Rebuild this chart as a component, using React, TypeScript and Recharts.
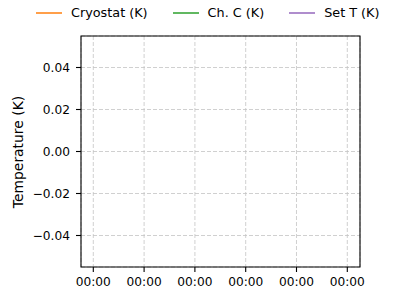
import { LineChart, Line, XAxis, YAxis, CartesianGrid, Legend, ReferenceArea } from "recharts";

// no samples recorded yet -> every series is empty
const TIMES: number[] = [];
const CRYOSTAT: number[] = [];
const CH_C: number[] = [];
const SET_T: number[] = [];

const SERIES_NAMES = ["Cryostat (K)", "Ch. C (K)", "Set T (K)"];

const X_DOMAIN = [-0.242, 5.25];
const X_TICKS = [0, 1, 2, 3, 4, 5];
const X_TICK_LABELS = ["00:00", "00:00", "00:00", "00:00", "00:00", "00:00"];
const Y_DOMAIN = [-0.055, 0.055];
const Y_TICKS = [-0.04, -0.02, 0, 0.02, 0.04];

const FONT = "'DejaVu Sans', sans-serif";
const tickStyle = { fill: "#000", fontSize: 12.2, fontFamily: FONT };

const data = TIMES.map((t, i) => ({ t, cryo: CRYOSTAT[i], chc: CH_C[i], sett: SET_T[i] }));

function LegendContent({ payload }: any) {
  const items = [...(payload || [])].sort(
    (a: any, b: any) => SERIES_NAMES.indexOf(a.value) - SERIES_NAMES.indexOf(b.value)
  );
  return (
    <div
      style={{
        display: "flex",
        height: 25,
        alignItems: "center",
        paddingLeft: 36,
        gap: 25,
        fontFamily: FONT,
        fontSize: 12.8,
        color: "#000",
      }}
    >
      {items.map((p: any) => (
        <div key={p.value} style={{ display: "flex", alignItems: "center" }}>
          <svg width={26} height={4} style={{ marginRight: 9 }}>
            <line x1={0} y1={2} x2={26} y2={2} stroke={p.color} strokeWidth={1.5} />
          </svg>
          <span>{p.value}</span>
        </div>
      ))}
    </div>
  );
}

export default function App() {
  return (
    <div style={{ position: "absolute", left: 0, top: 0, width: 400, height: 300, background: "#fff" }}>
      <LineChart width={400} height={300} data={data} margin={{ top: 11, right: 40, bottom: 0, left: 0 }}>
        <CartesianGrid stroke="#c4c4c4" strokeWidth={0.8} strokeDasharray="4 2" />
        <XAxis
          dataKey="t"
          type="number"
          domain={X_DOMAIN}
          ticks={X_TICKS}
          tickFormatter={(v: number) => X_TICK_LABELS[X_TICKS.indexOf(v)] ?? ""}
          allowDataOverflow
          height={33}
          tick={tickStyle}
          tickSize={5}
          tickMargin={5}
          axisLine={false}
          tickLine={{ stroke: "#000", strokeWidth: 1.1 }}
        />
        <YAxis
          type="number"
          domain={Y_DOMAIN}
          ticks={Y_TICKS}
          tickFormatter={(v: number) => v.toFixed(2).replace("-", "\u2212")}
          allowDataOverflow
          width={81}
          tick={tickStyle}
          tickSize={5}
          tickMargin={6}
          axisLine={false}
          tickLine={{ stroke: "#000", strokeWidth: 1.1 }}
          label={{
            content: () => (
              <text
                x={18}
                y={152}
                transform="rotate(-90 18 152)"
                textAnchor="middle"
                dominantBaseline="central"
                style={{ fontFamily: FONT, fontSize: 13.9, fill: "#000" }}
              >
                Temperature (K)
              </text>
            ),
          }}
        />
        {/* axes frame */}
        <ReferenceArea
          x1={X_DOMAIN[0]}
          x2={X_DOMAIN[1]}
          y1={Y_DOMAIN[0]}
          y2={Y_DOMAIN[1]}
          fill="none"
          fillOpacity={0}
          stroke="#000"
          strokeWidth={1.1}
          ifOverflow="visible"
        />
        <Legend verticalAlign="top" itemSorter={null as any} wrapperStyle={{ top: 0, left: 0, width: 400 }} content={<LegendContent />} />
        <Line dataKey="cryo" name={SERIES_NAMES[0]} stroke="#ff7f0e" dot={false} isAnimationActive={false} />
        <Line dataKey="chc" name={SERIES_NAMES[1]} stroke="#2ca02c" dot={false} isAnimationActive={false} />
        <Line dataKey="sett" name={SERIES_NAMES[2]} stroke="#9467bd" dot={false} isAnimationActive={false} />
      </LineChart>
    </div>
  );
}
